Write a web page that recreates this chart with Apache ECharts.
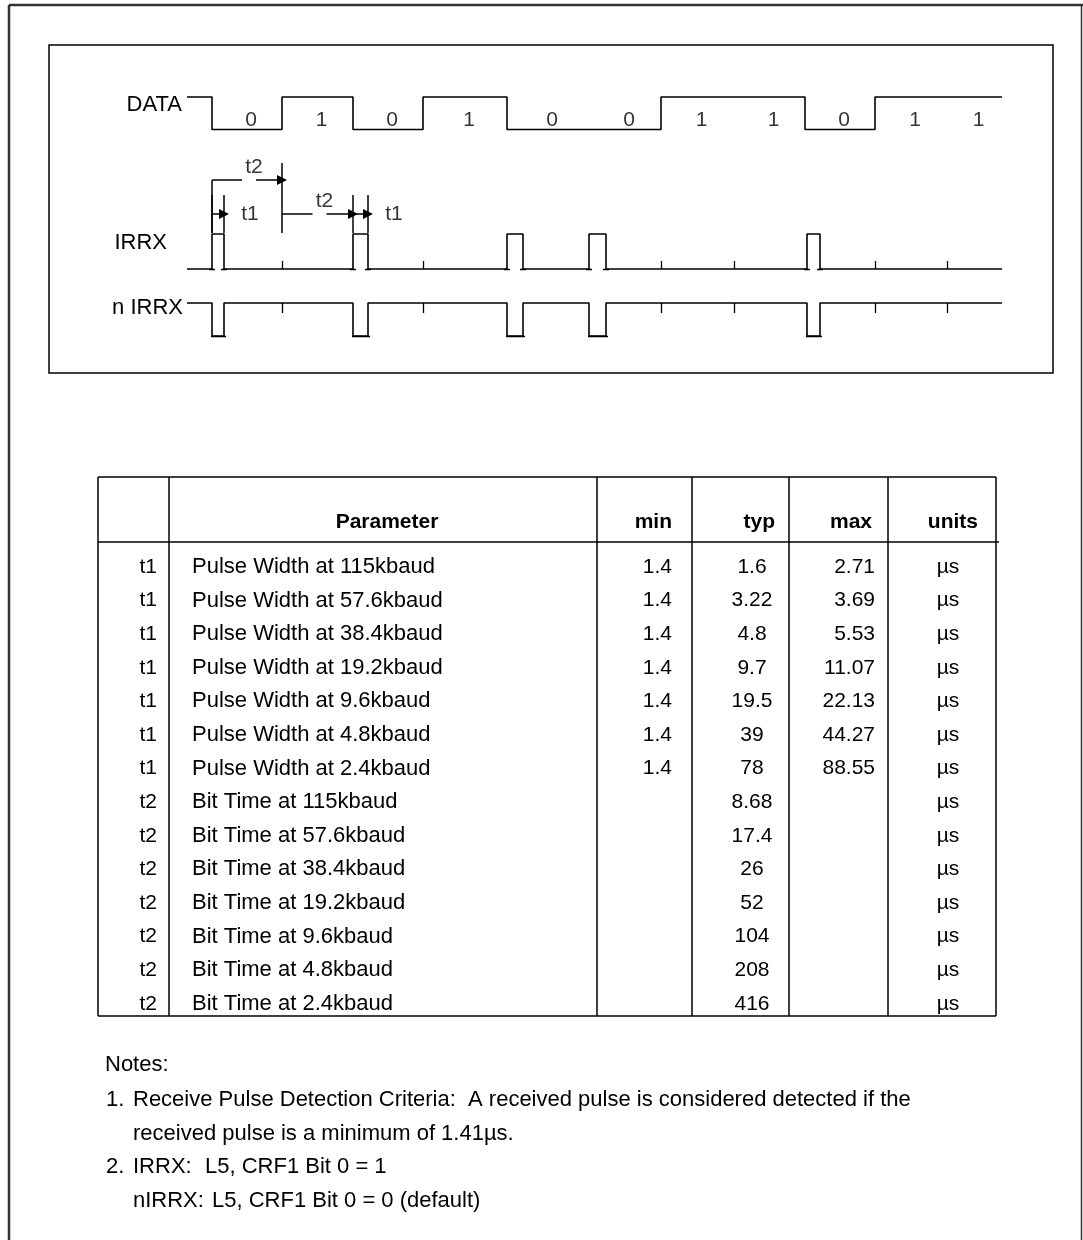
<!DOCTYPE html>
<html><head><meta charset="utf-8">
<script src="https://cdn.jsdelivr.net/npm/echarts@6/dist/echarts.min.js"></script>
<style>html,body{margin:0;padding:0;background:#fff;}#c{width:1083px;height:1240px;}</style>
</head><body><div id="c"></div>
<script>
// ================= DATA =================
// timing diagram (time units, 0 = start of traces)
const bits      = [0, 1, 0, 1, 0, 0, 1, 1, 0, 1, 1];
const bitEdges  = [25, 95, 166, 236, 320, 402, 474, 547, 618, 688, 760];
const traceEnd  = 815;
const pulseStart = [25, 166, 320, 402, 620];
const pulseWidth = [12, 15, 16, 17, 13];
const signalNames = ['DATA', 'IRRX', 'n IRRX'];
// annotations: t2 spans between bit edges, t1 spans over pulses
const t2Spans = [[0, 1], [1, 2]];   // indices into bitEdges
const t1Pulses = [0, 1];            // indices into pulseStart

// table
const tableHeaders = ['', 'Parameter', 'min', 'typ', 'max', 'units'];
const symbols = ['t1','t1','t1','t1','t1','t1','t1','t2','t2','t2','t2','t2','t2','t2'];
const params = [
  'Pulse Width at 115kbaud', 'Pulse Width at 57.6kbaud', 'Pulse Width at 38.4kbaud',
  'Pulse Width at 19.2kbaud', 'Pulse Width at 9.6kbaud', 'Pulse Width at 4.8kbaud',
  'Pulse Width at 2.4kbaud',
  'Bit Time at 115kbaud', 'Bit Time at 57.6kbaud', 'Bit Time at 38.4kbaud',
  'Bit Time at 19.2kbaud', 'Bit Time at 9.6kbaud', 'Bit Time at 4.8kbaud',
  'Bit Time at 2.4kbaud'
];
const minVals = ['1.4','1.4','1.4','1.4','1.4','1.4','1.4','','','','','','',''];
const typVals = ['1.6','3.22','4.8','9.7','19.5','39','78','8.68','17.4','26','52','104','208','416'];
const maxVals = ['2.71','3.69','5.53','11.07','22.13','44.27','88.55','','','','','','',''];
const unitVals = ['µs','µs','µs','µs','µs','µs','µs','µs','µs','µs','µs','µs','µs','µs'];

// notes
const notesTitle = 'Notes:';
const note1 = ['1.', 'Receive Pulse Detection Criteria:  A received pulse is considered detected if the',
               'received pulse is a minimum of 1.41µs.'];
const note2 = ['2.', 'IRRX:', 'L5, CRF1 Bit 0 = 1', 'nIRRX:', 'L5, CRF1 Bit 0 = 0 (default)'];

// ================= LAYOUT =================
const FONT = "'Liberation Sans', Arial, Helvetica, sans-serif";
const BOX = {x: 49, y: 45, w: 1004, h: 328};
const TRACE_X0 = 187;                 // pixel where time 0 sits
const rows = {                        // y in box units (px from box top)
  DATA:  {hi: 52,  lo: 84.5},
  IRRX:  {hi: 189, lo: 224},
  NIRRX: {hi: 258, lo: 291}
};
const LW = 1.6;

// ---- waveform builders ----
function dataWave() {
  const r = rows.DATA, y = l => l ? r.hi : r.lo;
  let prev = 1; const pts = [[0, y(prev)]];
  bits.forEach((b, i) => { pts.push([bitEdges[i], y(prev)], [bitEdges[i], y(b)]); prev = b; });
  pts.push([traceEnd, y(prev)]);
  return pts;
}
function pulseWave(row, active) {
  const idle = active ? row.lo : row.hi, act = active ? row.hi : row.lo;
  const pts = [[0, idle]];
  pulseStart.forEach((s, i) => {
    const e = s + pulseWidth[i];
    pts.push([s, idle], [s, act], [e, act], [e, idle]);
  });
  pts.push([traceEnd, idle]);
  return pts;
}
// tick marks at starts of '1' bits on IRRX / nIRRX
const tickLines = [];
bits.forEach((b, i) => {
  if (b === 1) {
    const x = bitEdges[i];
    tickLines.push({coords: [[x, rows.IRRX.lo], [x, rows.IRRX.lo - 8]]});
    tickLines.push({coords: [[x, rows.NIRRX.hi], [x, rows.NIRRX.hi + 10]]});
  }
});
// small ticks at pulse feet
pulseStart.forEach((s, i) => {
  const e = s + pulseWidth[i];
  [s, e].forEach(x => {
    tickLines.push({coords: [[x - 3, rows.IRRX.lo], [x + 3, rows.IRRX.lo]]});
  });
  tickLines.push({coords: [[s - 1, rows.NIRRX.lo], [e + 2, rows.NIRRX.lo]]});
});

// bit value labels
const bitLabels = bits.map((b, i) => {
  const a = bitEdges[i], e = i + 1 < bitEdges.length ? bitEdges[i + 1] : traceEnd;
  return [(a + e) / 2 + 4, 75, String(b)];
});

// annotations
const annLines = [], annArrows = [], annLabels = [];
const pulseTopY = rows.IRRX.hi - 1;
t2Spans.forEach((sp, k) => {
  const a = bitEdges[sp[0]], e = bitEdges[sp[1]];
  const ly = k === 0 ? 135 : 169;
  const lx = (a + e) / 2 + 7;
  annLines.push({coords: [[a, ly], [lx - 12, ly]]});
  annArrows.push({coords: [[lx + 2, ly], [e, ly]]});
  annLabels.push([lx, ly - 13, 't2']);
  if (k === 0) annLines.push({coords: [[a, ly], [a, pulseTopY]]});
  if (k === 0) annLines.push({coords: [[e, 118], [e, pulseTopY]]});
});
t1Pulses.forEach(p => {
  const s = pulseStart[p], e = s + pulseWidth[p];
  annArrows.push({coords: [[s, 169], [e, 169]]});
  annLines.push({coords: [[s, 150], [s, pulseTopY]]});
  annLines.push({coords: [[e, 150], [e, pulseTopY]]});
  annLabels.push([e + 26, 169, 't1']);
});

// ================= GRAPHIC (frame, labels, table, notes) =================
const G = [];
const line = (x1, y1, x2, y2, w, c) => G.push({type: 'line', silent: true,
  shape: {x1, y1, x2, y2}, style: {stroke: c || '#000', lineWidth: w || 1.5}});
const text = (t, x, y, align, size, bold) => G.push({type: 'text', silent: true, x, y,
  style: {text: t, fill: '#000', font: (bold ? 'bold ' : '') + size + 'px ' + FONT,
          textAlign: align, textVerticalAlign: 'middle'}});

// outer frame
line(9, 5, 1083, 5, 2.5, '#333');
line(9, 5, 9, 1240, 2.5, '#333');
line(1081.5, 5, 1081.5, 1240, 1.5, '#333');
// diagram box
G.push({type: 'rect', silent: true, shape: {x: BOX.x, y: BOX.y, width: BOX.w, height: BOX.h},
        style: {fill: 'none', stroke: '#000', lineWidth: 1.5}});
// signal labels
text(signalNames[0], 182, 105, 'right', 22);
text(signalNames[1], 167, 243, 'right', 22);
text(signalNames[2], 183, 308, 'right', 22);

// table
const colX = [98, 169, 597, 692, 789, 888, 996];
const T_TOP = 477, T_HEAD = 542, T_BOT = 1016;
const ROW0 = 567, ROWH = 33.6;
line(colX[0], T_TOP, colX[6], T_TOP);
line(colX[0], T_HEAD, colX[6] + 3, T_HEAD);
line(colX[0], T_BOT, colX[6], T_BOT);
colX.forEach(x => line(x, T_TOP, x, T_BOT));
const HY = 522, FS = 21, FP = 22;
text(tableHeaders[1], 387, HY, 'center', FS, true);
text(tableHeaders[2], 672, HY, 'right', FS, true);
text(tableHeaders[3], 775, HY, 'right', FS, true);
text(tableHeaders[4], 872, HY, 'right', FS, true);
text(tableHeaders[5], 978, HY, 'right', FS, true);
params.forEach((p, i) => {
  const y = ROW0 + i * ROWH;
  text(symbols[i], 157, y, 'right', FS);
  text(p, 192, y, 'left', FP);
  if (minVals[i]) text(minVals[i], 672, y, 'right', FS);
  text(typVals[i], 752, y, 'center', FS);
  if (maxVals[i]) text(maxVals[i], 875, y, 'right', FS);
  text(unitVals[i], 948, y, 'center', FS);
});

// notes
text(notesTitle, 105, 1065, 'left', FP);
text(note1[0], 106, 1100, 'left', FP);
text(note1[1], 133, 1100, 'left', FP);
text(note1[2], 133, 1134, 'left', FP);
text(note2[0], 106, 1167, 'left', FP);
text(note2[1], 133, 1167, 'left', FP);
text(note2[2], 205, 1167, 'left', FP);
text(note2[3], 133, 1201, 'left', FP);
text(note2[4], 212, 1201, 'left', FP);

// ================= CHART =================
const chart = echarts.init(document.getElementById('c'), null, {renderer: 'canvas'});
const wave = (data) => ({type: 'line', data, showSymbol: false, symbol: 'none',
  lineStyle: {color: '#000', width: LW}, silent: true, animation: false, z: 3});
chart.setOption({
  animation: false,
  backgroundColor: '#fff',
  grid: {left: BOX.x, top: BOX.y, width: BOX.w, height: BOX.h, show: false},
  xAxis: {type: 'value', min: BOX.x - TRACE_X0, max: BOX.x + BOX.w - TRACE_X0, show: false},
  yAxis: {type: 'value', min: 0, max: BOX.h, inverse: true, show: false},
  graphic: {elements: G},
  series: [
    wave(dataWave()),
    wave(pulseWave(rows.IRRX, true)),
    wave(pulseWave(rows.NIRRX, false)),
    {type: 'lines', coordinateSystem: 'cartesian2d', data: tickLines, silent: true,
     lineStyle: {color: '#000', width: 1.3, opacity: 1}, symbol: 'none', z: 2},
    {type: 'lines', coordinateSystem: 'cartesian2d', data: annLines, silent: true,
     lineStyle: {color: '#000', width: 1.5, opacity: 1}, symbol: 'none', z: 2},
    {type: 'lines', coordinateSystem: 'cartesian2d', data: annArrows, silent: true,
     lineStyle: {color: '#000', width: 1.5, opacity: 1}, symbol: ['none', 'triangle'],
     symbolSize: 10, itemStyle: {color: '#000'}, z: 2},
    {type: 'scatter', data: bitLabels, symbolSize: 1, silent: true,
     itemStyle: {color: 'rgba(0,0,0,0)'},
     label: {show: true, position: 'inside', formatter: p => p.value[2],
             color: '#000', fontSize: 21, fontFamily: FONT}},
    {type: 'scatter', data: annLabels, symbolSize: 1, silent: true,
     itemStyle: {color: 'rgba(0,0,0,0)'},
     label: {show: true, position: 'inside', formatter: p => p.value[2],
             color: '#000', fontSize: 21, fontFamily: FONT}}
  ]
});
</script></body></html>
